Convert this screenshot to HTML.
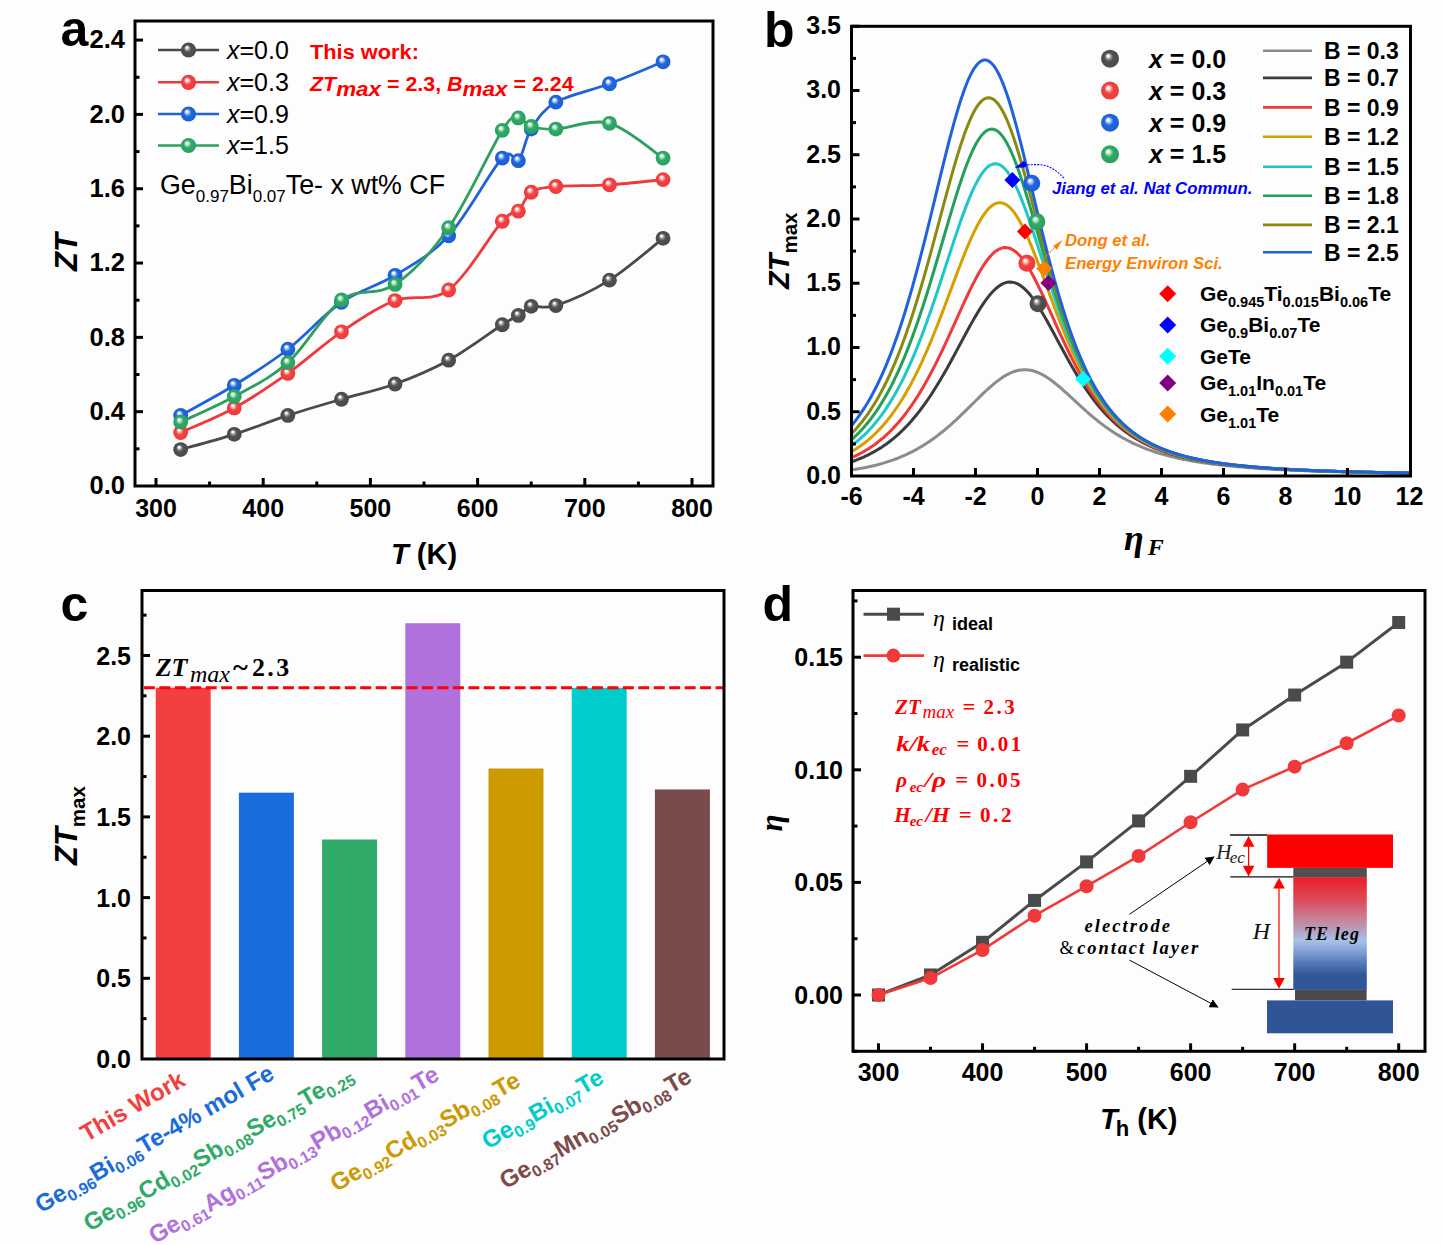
<!DOCTYPE html><html><head><meta charset="utf-8"><style>html,body{margin:0;padding:0;background:#fff;}svg{display:block;}</style></head><body>
<svg width="1443" height="1245" viewBox="0 0 1443 1245">
<defs>
<radialGradient id="sg" cx="0.5" cy="0.5" r="0.5" fx="0.38" fy="0.32"><stop offset="0" stop-color="#ffffff"/><stop offset="0.1" stop-color="#ffffff" stop-opacity="0.9"/><stop offset="0.3" stop-color="#909090"/><stop offset="0.5" stop-color="#505050"/><stop offset="1" stop-color="#4a4a4a"/></radialGradient>
<radialGradient id="sr" cx="0.5" cy="0.5" r="0.5" fx="0.38" fy="0.32"><stop offset="0" stop-color="#ffffff"/><stop offset="0.1" stop-color="#ffffff" stop-opacity="0.9"/><stop offset="0.3" stop-color="#f8a0a0"/><stop offset="0.5" stop-color="#f24242"/><stop offset="1" stop-color="#ee3a3c"/></radialGradient>
<radialGradient id="sb" cx="0.5" cy="0.5" r="0.5" fx="0.38" fy="0.32"><stop offset="0" stop-color="#ffffff"/><stop offset="0.1" stop-color="#ffffff" stop-opacity="0.9"/><stop offset="0.3" stop-color="#90b4f0"/><stop offset="0.5" stop-color="#2066dc"/><stop offset="1" stop-color="#1c5ed4"/></radialGradient>
<radialGradient id="sgr" cx="0.5" cy="0.5" r="0.5" fx="0.38" fy="0.32"><stop offset="0" stop-color="#ffffff"/><stop offset="0.1" stop-color="#ffffff" stop-opacity="0.9"/><stop offset="0.3" stop-color="#98d8b4"/><stop offset="0.5" stop-color="#2eaa66"/><stop offset="1" stop-color="#2aa060"/></radialGradient>
<linearGradient id="leg" x1="0" y1="0" x2="0" y2="1"><stop offset="0" stop-color="#e81e28"/><stop offset="0.2" stop-color="#dc4a58"/><stop offset="0.4" stop-color="#c48aa2"/><stop offset="0.5" stop-color="#b0aacc"/><stop offset="0.56" stop-color="#a8c2e8"/><stop offset="0.65" stop-color="#86a4d6"/><stop offset="0.75" stop-color="#5a7cbc"/><stop offset="0.87" stop-color="#30579a"/><stop offset="1" stop-color="#2f5597"/></linearGradient>
<marker id="ahk" viewBox="0 0 10 10" refX="9" refY="5" markerWidth="9" markerHeight="9" orient="auto-start-reverse" markerUnits="userSpaceOnUse"><path d="M0,0 L10,5 L0,10 z" fill="#000"/></marker>
</defs>
<rect x="0" y="0" width="1443" height="1245" fill="#fdfdfd"/>
<rect x="135" y="21" width="578" height="465" fill="none" stroke="#000" stroke-width="3.0"/>
<line x1="135" y1="411.68" x2="143" y2="411.68" stroke="#000" stroke-width="3.0"/>
<line x1="135" y1="337.36" x2="143" y2="337.36" stroke="#000" stroke-width="3.0"/>
<line x1="135" y1="263.04" x2="143" y2="263.04" stroke="#000" stroke-width="3.0"/>
<line x1="135" y1="188.72" x2="143" y2="188.72" stroke="#000" stroke-width="3.0"/>
<line x1="135" y1="114.4" x2="143" y2="114.4" stroke="#000" stroke-width="3.0"/>
<line x1="135" y1="40.08" x2="143" y2="40.08" stroke="#000" stroke-width="3.0"/>
<line x1="135" y1="448.84" x2="139.5" y2="448.84" stroke="#000" stroke-width="3.0"/>
<line x1="135" y1="374.52" x2="139.5" y2="374.52" stroke="#000" stroke-width="3.0"/>
<line x1="135" y1="300.2" x2="139.5" y2="300.2" stroke="#000" stroke-width="3.0"/>
<line x1="135" y1="225.88" x2="139.5" y2="225.88" stroke="#000" stroke-width="3.0"/>
<line x1="135" y1="151.56" x2="139.5" y2="151.56" stroke="#000" stroke-width="3.0"/>
<line x1="135" y1="77.24" x2="139.5" y2="77.24" stroke="#000" stroke-width="3.0"/>
<line x1="156" y1="486" x2="156" y2="478" stroke="#000" stroke-width="3.0"/>
<line x1="263.2" y1="486" x2="263.2" y2="478" stroke="#000" stroke-width="3.0"/>
<line x1="370.4" y1="486" x2="370.4" y2="478" stroke="#000" stroke-width="3.0"/>
<line x1="477.6" y1="486" x2="477.6" y2="478" stroke="#000" stroke-width="3.0"/>
<line x1="584.8" y1="486" x2="584.8" y2="478" stroke="#000" stroke-width="3.0"/>
<line x1="692" y1="486" x2="692" y2="478" stroke="#000" stroke-width="3.0"/>
<line x1="209.6" y1="486" x2="209.6" y2="481.5" stroke="#000" stroke-width="3.0"/>
<line x1="316.8" y1="486" x2="316.8" y2="481.5" stroke="#000" stroke-width="3.0"/>
<line x1="424" y1="486" x2="424" y2="481.5" stroke="#000" stroke-width="3.0"/>
<line x1="531.2" y1="486" x2="531.2" y2="481.5" stroke="#000" stroke-width="3.0"/>
<line x1="638.4" y1="486" x2="638.4" y2="481.5" stroke="#000" stroke-width="3.0"/>
<text x="125" y="494.2" font-size="25.5" text-anchor="end" font-weight="bold" font-style="normal" fill="#000" font-family='"Liberation Sans", sans-serif' >0.0</text>
<text x="125" y="419.88" font-size="25.5" text-anchor="end" font-weight="bold" font-style="normal" fill="#000" font-family='"Liberation Sans", sans-serif' >0.4</text>
<text x="125" y="345.56" font-size="25.5" text-anchor="end" font-weight="bold" font-style="normal" fill="#000" font-family='"Liberation Sans", sans-serif' >0.8</text>
<text x="125" y="271.24" font-size="25.5" text-anchor="end" font-weight="bold" font-style="normal" fill="#000" font-family='"Liberation Sans", sans-serif' >1.2</text>
<text x="125" y="196.92" font-size="25.5" text-anchor="end" font-weight="bold" font-style="normal" fill="#000" font-family='"Liberation Sans", sans-serif' >1.6</text>
<text x="125" y="122.6" font-size="25.5" text-anchor="end" font-weight="bold" font-style="normal" fill="#000" font-family='"Liberation Sans", sans-serif' >2.0</text>
<text x="125" y="48.28" font-size="25.5" text-anchor="end" font-weight="bold" font-style="normal" fill="#000" font-family='"Liberation Sans", sans-serif' >2.4</text>
<text x="156" y="517" font-size="25" text-anchor="middle" font-weight="bold" font-style="normal" fill="#000" font-family='"Liberation Sans", sans-serif' >300</text>
<text x="263.2" y="517" font-size="25" text-anchor="middle" font-weight="bold" font-style="normal" fill="#000" font-family='"Liberation Sans", sans-serif' >400</text>
<text x="370.4" y="517" font-size="25" text-anchor="middle" font-weight="bold" font-style="normal" fill="#000" font-family='"Liberation Sans", sans-serif' >500</text>
<text x="477.6" y="517" font-size="25" text-anchor="middle" font-weight="bold" font-style="normal" fill="#000" font-family='"Liberation Sans", sans-serif' >600</text>
<text x="584.8" y="517" font-size="25" text-anchor="middle" font-weight="bold" font-style="normal" fill="#000" font-family='"Liberation Sans", sans-serif' >700</text>
<text x="692" y="517" font-size="25" text-anchor="middle" font-weight="bold" font-style="normal" fill="#000" font-family='"Liberation Sans", sans-serif' >800</text>
<text x="60.5" y="46" font-size="50" text-anchor="start" font-weight="bold" font-style="normal" fill="#000" font-family='"Liberation Sans", sans-serif' >a</text>
<text transform="translate(77,271) rotate(-90)" font-size="31" font-weight="bold" font-style="italic" font-family='"Liberation Sans", sans-serif'>ZT</text>
<text x="391" y="564" font-size="29" font-weight="bold" font-family='"Liberation Sans", sans-serif'><tspan font-style="italic">T</tspan> (K)</text>
<path d="M180.66,449.58 C189.59,447.04 216.39,440.05 234.26,434.35 C252.12,428.65 269.99,421.25 287.86,415.4 C305.72,409.54 323.59,404.46 341.46,399.23 C359.32,394 377.19,390.5 395.06,384 C412.92,377.49 430.79,370.09 448.66,360.21 C466.52,350.34 490.64,332.19 502.26,324.73 C513.87,317.26 513.51,318.5 518.34,315.44 C523.16,312.37 524.95,307.97 531.2,306.33 C537.45,304.69 542.81,309.95 555.86,305.59 C568.9,301.22 591.59,291.34 609.46,280.13 C627.32,268.92 654.12,245.3 663.06,238.33" fill="none" stroke="#4a4a4a" stroke-width="2.8"/>
<circle cx="180.66" cy="449.58" r="7.4" fill="url(#sg)"/>
<circle cx="234.26" cy="434.35" r="7.4" fill="url(#sg)"/>
<circle cx="287.86" cy="415.4" r="7.4" fill="url(#sg)"/>
<circle cx="341.46" cy="399.23" r="7.4" fill="url(#sg)"/>
<circle cx="395.06" cy="384" r="7.4" fill="url(#sg)"/>
<circle cx="448.66" cy="360.21" r="7.4" fill="url(#sg)"/>
<circle cx="502.26" cy="324.73" r="7.4" fill="url(#sg)"/>
<circle cx="518.34" cy="315.44" r="7.4" fill="url(#sg)"/>
<circle cx="531.2" cy="306.33" r="7.4" fill="url(#sg)"/>
<circle cx="555.86" cy="305.59" r="7.4" fill="url(#sg)"/>
<circle cx="609.46" cy="280.13" r="7.4" fill="url(#sg)"/>
<circle cx="663.06" cy="238.33" r="7.4" fill="url(#sg)"/>
<path d="M180.66,432.49 C189.59,428.4 216.39,417.81 234.26,407.96 C252.12,398.12 269.99,386.1 287.86,373.41 C305.72,360.71 323.59,343.92 341.46,331.79 C359.32,319.65 377.19,307.54 395.06,300.57 C412.92,293.6 430.79,303.2 448.66,289.98 C466.52,276.76 490.64,234.36 502.26,221.23 C513.87,208.11 513.51,216.03 518.34,211.2 C523.16,206.37 524.95,196.37 531.2,192.25 C537.45,188.13 542.81,187.73 555.86,186.49 C568.9,185.25 591.59,185.96 609.46,184.82 C627.32,183.67 654.12,180.48 663.06,179.62" fill="none" stroke="#f0393b" stroke-width="2.8"/>
<circle cx="180.66" cy="432.49" r="7.4" fill="url(#sr)"/>
<circle cx="234.26" cy="407.96" r="7.4" fill="url(#sr)"/>
<circle cx="287.86" cy="373.41" r="7.4" fill="url(#sr)"/>
<circle cx="341.46" cy="331.79" r="7.4" fill="url(#sr)"/>
<circle cx="395.06" cy="300.57" r="7.4" fill="url(#sr)"/>
<circle cx="448.66" cy="289.98" r="7.4" fill="url(#sr)"/>
<circle cx="502.26" cy="221.23" r="7.4" fill="url(#sr)"/>
<circle cx="518.34" cy="211.2" r="7.4" fill="url(#sr)"/>
<circle cx="531.2" cy="192.25" r="7.4" fill="url(#sr)"/>
<circle cx="555.86" cy="186.49" r="7.4" fill="url(#sr)"/>
<circle cx="609.46" cy="184.82" r="7.4" fill="url(#sr)"/>
<circle cx="663.06" cy="179.62" r="7.4" fill="url(#sr)"/>
<path d="M180.66,415.4 C189.59,410.38 216.39,396.32 234.26,385.3 C252.12,374.27 269.99,363.09 287.86,349.25 C305.72,335.41 323.59,314.57 341.46,302.24 C359.32,289.92 377.19,286.39 395.06,275.3 C412.92,264.22 430.79,255.27 448.66,235.73 C466.52,216.19 490.64,170.57 502.26,158.06 C513.87,145.55 513.51,165.5 518.34,160.66 C523.16,155.83 524.95,138.83 531.2,129.08 C537.45,119.32 542.81,109.69 555.86,102.14 C568.9,94.58 591.59,90.46 609.46,83.74 C627.32,77.02 654.12,65.47 663.06,61.82" fill="none" stroke="#1f63dc" stroke-width="2.8"/>
<circle cx="180.66" cy="415.4" r="7.4" fill="url(#sb)"/>
<circle cx="234.26" cy="385.3" r="7.4" fill="url(#sb)"/>
<circle cx="287.86" cy="349.25" r="7.4" fill="url(#sb)"/>
<circle cx="341.46" cy="302.24" r="7.4" fill="url(#sb)"/>
<circle cx="395.06" cy="275.3" r="7.4" fill="url(#sb)"/>
<circle cx="448.66" cy="235.73" r="7.4" fill="url(#sb)"/>
<circle cx="502.26" cy="158.06" r="7.4" fill="url(#sb)"/>
<circle cx="518.34" cy="160.66" r="7.4" fill="url(#sb)"/>
<circle cx="531.2" cy="129.08" r="7.4" fill="url(#sb)"/>
<circle cx="555.86" cy="102.14" r="7.4" fill="url(#sb)"/>
<circle cx="609.46" cy="83.74" r="7.4" fill="url(#sb)"/>
<circle cx="663.06" cy="61.82" r="7.4" fill="url(#sb)"/>
<path d="M180.66,422.08 C189.59,417.81 216.39,406.35 234.26,396.44 C252.12,386.54 269.99,378.7 287.86,362.63 C305.72,346.56 323.59,313.05 341.46,300.01 C359.32,286.98 377.19,296.45 395.06,284.41 C412.92,272.36 430.79,253.41 448.66,227.74 C466.52,202.07 490.64,148.68 502.26,130.38 C513.87,112.08 513.51,118.58 518.34,117.93 C523.16,117.28 524.95,124.62 531.2,126.48 C537.45,128.33 542.81,129.6 555.86,129.08 C568.9,128.55 591.59,118.49 609.46,123.32 C627.32,128.15 654.12,152.27 663.06,158.06" fill="none" stroke="#2e9f5f" stroke-width="2.8"/>
<circle cx="180.66" cy="422.08" r="7.4" fill="url(#sgr)"/>
<circle cx="234.26" cy="396.44" r="7.4" fill="url(#sgr)"/>
<circle cx="287.86" cy="362.63" r="7.4" fill="url(#sgr)"/>
<circle cx="341.46" cy="300.01" r="7.4" fill="url(#sgr)"/>
<circle cx="395.06" cy="284.41" r="7.4" fill="url(#sgr)"/>
<circle cx="448.66" cy="227.74" r="7.4" fill="url(#sgr)"/>
<circle cx="502.26" cy="130.38" r="7.4" fill="url(#sgr)"/>
<circle cx="518.34" cy="117.93" r="7.4" fill="url(#sgr)"/>
<circle cx="531.2" cy="126.48" r="7.4" fill="url(#sgr)"/>
<circle cx="555.86" cy="129.08" r="7.4" fill="url(#sgr)"/>
<circle cx="609.46" cy="123.32" r="7.4" fill="url(#sgr)"/>
<circle cx="663.06" cy="158.06" r="7.4" fill="url(#sgr)"/>
<line x1="158" y1="50" x2="219" y2="50" stroke="#4a4a4a" stroke-width="2.6"/>
<circle cx="188.5" cy="50" r="7.6" fill="url(#sg)"/>
<text x="227" y="58.5" font-size="25" font-family='"Liberation Sans", sans-serif'><tspan font-style="italic">x</tspan>=0.0</text>
<line x1="158" y1="82.3" x2="219" y2="82.3" stroke="#f0393b" stroke-width="2.6"/>
<circle cx="188.5" cy="82.3" r="7.6" fill="url(#sr)"/>
<text x="227" y="90.8" font-size="25" font-family='"Liberation Sans", sans-serif'><tspan font-style="italic">x</tspan>=0.3</text>
<line x1="158" y1="114" x2="219" y2="114" stroke="#1f63dc" stroke-width="2.6"/>
<circle cx="188.5" cy="114" r="7.6" fill="url(#sb)"/>
<text x="227" y="122.5" font-size="25" font-family='"Liberation Sans", sans-serif'><tspan font-style="italic">x</tspan>=0.9</text>
<line x1="158" y1="145.5" x2="219" y2="145.5" stroke="#2e9f5f" stroke-width="2.6"/>
<circle cx="188.5" cy="145.5" r="7.6" fill="url(#sgr)"/>
<text x="227" y="154.0" font-size="25" font-family='"Liberation Sans", sans-serif'><tspan font-style="italic">x</tspan>=1.5</text>
<text x="160" y="194" font-size="26.8" font-family='"Liberation Sans", sans-serif'>Ge<tspan font-size="17" dy="7.5">0.97</tspan><tspan dy="-7.5">Bi</tspan><tspan font-size="17" dy="7.5">0.07</tspan><tspan dy="-7.5">Te- x wt% CF</tspan></text>
<text transform="translate(310,59) scale(1.09,1)" font-size="20" text-anchor="start" font-weight="bold" font-style="normal" fill="#ff0000" font-family='"Liberation Sans", sans-serif' >This work:</text>
<text transform="translate(310,91) scale(1.07,1)" font-size="20" text-anchor="start" font-weight="bold" font-style="normal" fill="#ff0000" font-family='"Liberation Sans", sans-serif' ><tspan font-style="italic">ZT</tspan><tspan font-style="italic" font-size="21" dy="5">max</tspan><tspan dy="-5"> = 2.3, </tspan><tspan font-style="italic">B</tspan><tspan font-style="italic" font-size="21" dy="5">max</tspan><tspan dy="-5"> = 2.24</tspan></text>
<clipPath id="clipb"><rect x="851.5" y="26.3" width="559.0" height="449.7"/></clipPath>
<g clip-path="url(#clipb)">
<polyline points="851.5,469.9 853.83,469.55 856.15,469.18 858.48,468.79 860.8,468.38 863.12,467.94 865.45,467.49 867.77,467.01 870.1,466.51 872.42,465.98 874.75,465.42 877.08,464.84 879.4,464.22 881.73,463.58 884.05,462.9 886.38,462.19 888.7,461.44 891.02,460.66 893.35,459.85 895.67,458.99 898,458.09 900.33,457.16 902.65,456.18 904.98,455.15 907.3,454.09 909.62,452.97 911.95,451.81 914.27,450.6 916.6,449.34 918.92,448.03 921.25,446.66 923.58,445.25 925.9,443.78 928.23,442.25 930.55,440.67 932.88,439.04 935.2,437.35 937.52,435.61 939.85,433.81 942.17,431.96 944.5,430.06 946.83,428.11 949.15,426.11 951.48,424.06 953.8,421.96 956.12,419.83 958.45,417.65 960.77,415.44 963.1,413.2 965.42,410.94 967.75,408.65 970.08,406.35 972.4,404.05 974.73,401.74 977.05,399.45 979.38,397.16 981.7,394.91 984.02,392.68 986.35,390.5 988.67,388.38 991,386.32 993.33,384.33 995.65,382.43 997.98,380.62 1000.3,378.92 1002.62,377.34 1004.95,375.88 1007.27,374.56 1009.6,373.38 1011.92,372.35 1014.25,371.49 1016.58,370.79 1018.9,370.26 1021.23,369.91 1023.55,369.73 1025.88,369.73 1028.2,369.9 1030.53,370.26 1032.85,370.78 1035.17,371.48 1037.5,372.34 1039.83,373.35 1042.15,374.51 1044.47,375.82 1046.8,377.25 1049.12,378.8 1051.45,380.46 1053.78,382.22 1056.1,384.07 1058.42,385.99 1060.75,387.98 1063.08,390.02 1065.4,392.1 1067.72,394.22 1070.05,396.35 1072.38,398.5 1074.7,400.66 1077.03,402.81 1079.35,404.95 1081.67,407.08 1084,409.18 1086.33,411.25 1088.65,413.29 1090.97,415.29 1093.3,417.25 1095.62,419.16 1097.95,421.03 1100.28,422.86 1102.6,424.63 1104.92,426.35 1107.25,428.02 1109.58,429.64 1111.9,431.21 1114.22,432.72 1116.55,434.19 1118.88,435.6 1121.2,436.97 1123.53,438.29 1125.85,439.55 1128.17,440.78 1130.5,441.95 1132.83,443.09 1135.15,444.17 1137.47,445.22 1139.8,446.23 1142.12,447.2 1144.45,448.13 1146.78,449.03 1149.1,449.89 1151.42,450.71 1153.75,451.51 1156.08,452.27 1158.4,453.01 1160.72,453.71 1163.05,454.39 1165.38,455.04 1167.7,455.67 1170.03,456.27 1172.35,456.85 1174.67,457.4 1177,457.94 1179.33,458.45 1181.65,458.95 1183.97,459.43 1186.3,459.88 1188.62,460.33 1190.95,460.75 1193.28,461.16 1195.6,461.56 1197.92,461.94 1200.25,462.3 1202.58,462.66 1204.9,463 1207.22,463.33 1209.55,463.64 1211.88,463.95 1214.2,464.25 1216.53,464.53 1218.85,464.81 1221.17,465.07 1223.5,465.33 1225.83,465.58 1228.15,465.82 1230.47,466.05 1232.8,466.28 1235.12,466.49 1237.45,466.71 1239.78,466.91 1242.1,467.11 1244.42,467.3 1246.75,467.48 1249.08,467.66 1251.4,467.84 1253.72,468.01 1256.05,468.17 1258.38,468.33 1260.7,468.48 1263.03,468.63 1265.35,468.78 1267.67,468.92 1270,469.06 1272.33,469.19 1274.65,469.32 1276.97,469.45 1279.3,469.57 1281.62,469.69 1283.95,469.8 1286.28,469.91 1288.6,470.02 1290.92,470.13 1293.25,470.23 1295.58,470.34 1297.9,470.43 1300.22,470.53 1302.55,470.62 1304.88,470.72 1307.2,470.8 1309.53,470.89 1311.85,470.98 1314.17,471.06 1316.5,471.14 1318.83,471.22 1321.15,471.29 1323.47,471.37 1325.8,471.44 1328.12,471.51 1330.45,471.58 1332.78,471.65 1335.1,471.72 1337.42,471.78 1339.75,471.84 1342.08,471.91 1344.4,471.97 1346.72,472.03 1349.05,472.08 1351.38,472.14 1353.7,472.2 1356.03,472.25 1358.35,472.3 1360.67,472.36 1363,472.41 1365.32,472.46 1367.65,472.51 1369.97,472.55 1372.3,472.6 1374.62,472.65 1376.95,472.69 1379.28,472.73 1381.6,472.78 1383.93,472.82 1386.25,472.86 1388.57,472.9 1390.9,472.94 1393.22,472.98 1395.55,473.02 1397.88,473.06 1400.2,473.09 1402.53,473.13 1404.85,473.17 1407.18,473.2 1409.5,473.23" fill="none" stroke="#8c8c8c" stroke-width="3.0" stroke-linejoin="round"/>
<polyline points="851.5,461.79 853.83,460.98 856.15,460.12 858.48,459.21 860.8,458.26 863.12,457.26 865.45,456.2 867.77,455.09 870.1,453.93 872.42,452.7 874.75,451.42 877.08,450.07 879.4,448.65 881.73,447.16 884.05,445.6 886.38,443.97 888.7,442.26 891.02,440.47 893.35,438.59 895.67,436.63 898,434.58 900.33,432.45 902.65,430.22 904.98,427.89 907.3,425.47 909.62,422.94 911.95,420.32 914.27,417.59 916.6,414.76 918.92,411.82 921.25,408.78 923.58,405.63 925.9,402.38 928.23,399.02 930.55,395.55 932.88,391.99 935.2,388.32 937.52,384.56 939.85,380.7 942.17,376.76 944.5,372.74 946.83,368.64 949.15,364.47 951.48,360.24 953.8,355.97 956.12,351.66 958.45,347.32 960.77,342.98 963.1,338.63 965.42,334.31 967.75,330.02 970.08,325.79 972.4,321.63 974.73,317.57 977.05,313.62 979.38,309.81 981.7,306.15 984.02,302.68 986.35,299.41 988.67,296.36 991,293.56 993.33,291.02 995.65,288.76 997.98,286.81 1000.3,285.17 1002.62,283.87 1004.95,282.91 1007.27,282.29 1009.6,282.04 1011.92,282.14 1014.25,282.61 1016.58,283.43 1018.9,284.6 1021.23,286.12 1023.55,287.96 1025.88,290.13 1028.2,292.59 1030.53,295.33 1032.85,298.34 1035.17,301.58 1037.5,305.04 1039.83,308.69 1042.15,312.51 1044.47,316.48 1046.8,320.56 1049.12,324.73 1051.45,328.98 1053.78,333.28 1056.1,337.61 1058.42,341.94 1060.75,346.27 1063.08,350.57 1065.4,354.83 1067.72,359.04 1070.05,363.18 1072.38,367.24 1074.7,371.22 1077.03,375.11 1079.35,378.89 1081.67,382.57 1084,386.15 1086.33,389.61 1088.65,392.96 1090.97,396.19 1093.3,399.31 1095.62,402.32 1097.95,405.21 1100.28,407.99 1102.6,410.66 1104.92,413.23 1107.25,415.69 1109.58,418.04 1111.9,420.3 1114.22,422.46 1116.55,424.53 1118.88,426.51 1121.2,428.41 1123.53,430.22 1125.85,431.95 1128.17,433.6 1130.5,435.18 1132.83,436.69 1135.15,438.14 1137.47,439.52 1139.8,440.83 1142.12,442.09 1144.45,443.3 1146.78,444.45 1149.1,445.55 1151.42,446.6 1153.75,447.6 1156.08,448.56 1158.4,449.48 1160.72,450.36 1163.05,451.2 1165.38,452.01 1167.7,452.78 1170.03,453.52 1172.35,454.23 1174.67,454.9 1177,455.55 1179.33,456.18 1181.65,456.77 1183.97,457.35 1186.3,457.9 1188.62,458.42 1190.95,458.93 1193.28,459.42 1195.6,459.88 1197.92,460.33 1200.25,460.77 1202.58,461.18 1204.9,461.58 1207.22,461.97 1209.55,462.34 1211.88,462.69 1214.2,463.04 1216.53,463.37 1218.85,463.69 1221.17,463.99 1223.5,464.29 1225.83,464.58 1228.15,464.85 1230.47,465.12 1232.8,465.38 1235.12,465.63 1237.45,465.87 1239.78,466.1 1242.1,466.32 1244.42,466.54 1246.75,466.75 1249.08,466.95 1251.4,467.15 1253.72,467.34 1256.05,467.53 1258.38,467.71 1260.7,467.88 1263.03,468.05 1265.35,468.21 1267.67,468.37 1270,468.52 1272.33,468.67 1274.65,468.81 1276.97,468.96 1279.3,469.09 1281.62,469.22 1283.95,469.35 1286.28,469.48 1288.6,469.6 1290.92,469.72 1293.25,469.83 1295.58,469.94 1297.9,470.05 1300.22,470.16 1302.55,470.26 1304.88,470.36 1307.2,470.46 1309.53,470.56 1311.85,470.65 1314.17,470.74 1316.5,470.83 1318.83,470.91 1321.15,471 1323.47,471.08 1325.8,471.16 1328.12,471.24 1330.45,471.31 1332.78,471.39 1335.1,471.46 1337.42,471.53 1339.75,471.6 1342.08,471.67 1344.4,471.73 1346.72,471.8 1349.05,471.86 1351.38,471.92 1353.7,471.98 1356.03,472.04 1358.35,472.1 1360.67,472.16 1363,472.21 1365.32,472.26 1367.65,472.32 1369.97,472.37 1372.3,472.42 1374.62,472.47 1376.95,472.52 1379.28,472.57 1381.6,472.61 1383.93,472.66 1386.25,472.7 1388.57,472.75 1390.9,472.79 1393.22,472.83 1395.55,472.87 1397.88,472.91 1400.2,472.95 1402.53,472.99 1404.85,473.03 1407.18,473.07 1409.5,473.1" fill="none" stroke="#3c3c3c" stroke-width="3.0" stroke-linejoin="round"/>
<polyline points="851.5,457.75 853.83,456.71 856.15,455.6 858.48,454.44 860.8,453.22 863.12,451.94 865.45,450.59 867.77,449.17 870.1,447.67 872.42,446.11 874.75,444.46 877.08,442.73 879.4,440.92 881.73,439.02 884.05,437.03 886.38,434.94 888.7,432.76 891.02,430.47 893.35,428.08 895.67,425.59 898,422.98 900.33,420.26 902.65,417.43 904.98,414.48 907.3,411.41 909.62,408.21 911.95,404.89 914.27,401.45 916.6,397.87 918.92,394.18 921.25,390.35 923.58,386.4 925.9,382.32 928.23,378.12 930.55,373.8 932.88,369.36 935.2,364.81 937.52,360.15 939.85,355.4 942.17,350.55 944.5,345.62 946.83,340.61 949.15,335.55 951.48,330.44 953.8,325.3 956.12,320.14 958.45,314.98 960.77,309.84 963.1,304.74 965.42,299.71 967.75,294.76 970.08,289.92 972.4,285.21 974.73,280.67 977.05,276.31 979.38,272.16 981.7,268.26 984.02,264.62 986.35,261.28 988.67,258.25 991,255.55 993.33,253.22 995.65,251.27 997.98,249.72 1000.3,248.57 1002.62,247.84 1004.95,247.55 1007.27,247.68 1009.6,248.25 1011.92,249.25 1014.25,250.67 1016.58,252.5 1018.9,254.72 1021.23,257.33 1023.55,260.3 1025.88,263.61 1028.2,267.23 1030.53,271.14 1032.85,275.31 1035.17,279.7 1037.5,284.3 1039.83,289.07 1042.15,293.98 1044.47,299 1046.8,304.11 1049.12,309.28 1051.45,314.47 1053.78,319.68 1056.1,324.88 1058.42,330.04 1060.75,335.14 1063.08,340.19 1065.4,345.14 1067.72,350.01 1070.05,354.76 1072.38,359.4 1074.7,363.92 1077.03,368.31 1079.35,372.57 1081.67,376.69 1084,380.67 1086.33,384.51 1088.65,388.21 1090.97,391.77 1093.3,395.2 1095.62,398.49 1097.95,401.64 1100.28,404.66 1102.6,407.56 1104.92,410.33 1107.25,412.99 1109.58,415.52 1111.9,417.95 1114.22,420.26 1116.55,422.47 1118.88,424.59 1121.2,426.6 1123.53,428.52 1125.85,430.36 1128.17,432.11 1130.5,433.78 1132.83,435.38 1135.15,436.9 1137.47,438.35 1139.8,439.74 1142.12,441.06 1144.45,442.32 1146.78,443.53 1149.1,444.68 1151.42,445.78 1153.75,446.83 1156.08,447.83 1158.4,448.79 1160.72,449.7 1163.05,450.58 1165.38,451.42 1167.7,452.22 1170.03,452.98 1172.35,453.72 1174.67,454.42 1177,455.09 1179.33,455.74 1181.65,456.36 1183.97,456.95 1186.3,457.52 1188.62,458.06 1190.95,458.58 1193.28,459.09 1195.6,459.57 1197.92,460.03 1200.25,460.48 1202.58,460.9 1204.9,461.31 1207.22,461.71 1209.55,462.09 1211.88,462.46 1214.2,462.81 1216.53,463.15 1218.85,463.48 1221.17,463.79 1223.5,464.1 1225.83,464.39 1228.15,464.67 1230.47,464.95 1232.8,465.21 1235.12,465.47 1237.45,465.71 1239.78,465.95 1242.1,466.18 1244.42,466.4 1246.75,466.62 1249.08,466.82 1251.4,467.03 1253.72,467.22 1256.05,467.41 1258.38,467.59 1260.7,467.77 1263.03,467.94 1265.35,468.11 1267.67,468.27 1270,468.42 1272.33,468.58 1274.65,468.72 1276.97,468.87 1279.3,469.01 1281.62,469.14 1283.95,469.27 1286.28,469.4 1288.6,469.52 1290.92,469.64 1293.25,469.76 1295.58,469.87 1297.9,469.98 1300.22,470.09 1302.55,470.2 1304.88,470.3 1307.2,470.4 1309.53,470.5 1311.85,470.59 1314.17,470.68 1316.5,470.77 1318.83,470.86 1321.15,470.94 1323.47,471.03 1325.8,471.11 1328.12,471.19 1330.45,471.27 1332.78,471.34 1335.1,471.41 1337.42,471.49 1339.75,471.56 1342.08,471.62 1344.4,471.69 1346.72,471.76 1349.05,471.82 1351.38,471.88 1353.7,471.94 1356.03,472 1358.35,472.06 1360.67,472.12 1363,472.18 1365.32,472.23 1367.65,472.28 1369.97,472.34 1372.3,472.39 1374.62,472.44 1376.95,472.49 1379.28,472.54 1381.6,472.58 1383.93,472.63 1386.25,472.67 1388.57,472.72 1390.9,472.76 1393.22,472.8 1395.55,472.85 1397.88,472.89 1400.2,472.93 1402.53,472.97 1404.85,473 1407.18,473.04 1409.5,473.08" fill="none" stroke="#f03a3a" stroke-width="3.0" stroke-linejoin="round"/>
<polyline points="851.5,451.7 853.83,450.31 856.15,448.85 858.48,447.31 860.8,445.69 863.12,443.99 865.45,442.19 867.77,440.31 870.1,438.33 872.42,436.26 874.75,434.08 877.08,431.79 879.4,429.39 881.73,426.88 884.05,424.25 886.38,421.5 888.7,418.62 891.02,415.61 893.35,412.47 895.67,409.19 898,405.77 900.33,402.2 902.65,398.49 904.98,394.63 907.3,390.62 909.62,386.45 911.95,382.13 914.27,377.66 916.6,373.03 918.92,368.25 921.25,363.31 923.58,358.23 925.9,353 928.23,347.63 930.55,342.12 932.88,336.48 935.2,330.72 937.52,324.86 939.85,318.89 942.17,312.84 944.5,306.72 946.83,300.55 949.15,294.34 951.48,288.11 953.8,281.89 956.12,275.7 958.45,269.57 960.77,263.52 963.1,257.59 965.42,251.79 967.75,246.17 970.08,240.76 972.4,235.58 974.73,230.66 977.05,226.06 979.38,221.78 981.7,217.87 984.02,214.35 986.35,211.25 988.67,208.6 991,206.42 993.33,204.72 995.65,203.53 997.98,202.85 1000.3,202.7 1002.62,203.07 1004.95,203.96 1007.27,205.37 1009.6,207.3 1011.92,209.71 1014.25,212.6 1016.58,215.95 1018.9,219.72 1021.23,223.9 1023.55,228.44 1025.88,233.32 1028.2,238.5 1030.53,243.95 1032.85,249.63 1035.17,255.5 1037.5,261.54 1039.83,267.69 1042.15,273.94 1044.47,280.24 1046.8,286.57 1049.12,292.91 1051.45,299.21 1053.78,305.47 1056.1,311.65 1058.42,317.74 1060.75,323.72 1063.08,329.58 1065.4,335.3 1067.72,340.87 1070.05,346.3 1072.38,351.55 1074.7,356.65 1077.03,361.57 1079.35,366.32 1081.67,370.9 1084,375.3 1086.33,379.53 1088.65,383.59 1090.97,387.49 1093.3,391.22 1095.62,394.79 1097.95,398.21 1100.28,401.48 1102.6,404.6 1104.92,407.57 1107.25,410.42 1109.58,413.13 1111.9,415.72 1114.22,418.18 1116.55,420.53 1118.88,422.77 1121.2,424.9 1123.53,426.94 1125.85,428.87 1128.17,430.72 1130.5,432.48 1132.83,434.15 1135.15,435.75 1137.47,437.27 1139.8,438.72 1142.12,440.1 1144.45,441.42 1146.78,442.68 1149.1,443.88 1151.42,445.02 1153.75,446.11 1156.08,447.15 1158.4,448.15 1160.72,449.1 1163.05,450.01 1165.38,450.87 1167.7,451.7 1170.03,452.5 1172.35,453.25 1174.67,453.98 1177,454.67 1179.33,455.34 1181.65,455.98 1183.97,456.59 1186.3,457.17 1188.62,457.73 1190.95,458.27 1193.28,458.79 1195.6,459.28 1197.92,459.76 1200.25,460.21 1202.58,460.65 1204.9,461.07 1207.22,461.48 1209.55,461.87 1211.88,462.24 1214.2,462.61 1216.53,462.95 1218.85,463.29 1221.17,463.61 1223.5,463.92 1225.83,464.22 1228.15,464.51 1230.47,464.79 1232.8,465.06 1235.12,465.32 1237.45,465.57 1239.78,465.81 1242.1,466.05 1244.42,466.28 1246.75,466.49 1249.08,466.71 1251.4,466.91 1253.72,467.11 1256.05,467.3 1258.38,467.49 1260.7,467.67 1263.03,467.84 1265.35,468.01 1267.67,468.18 1270,468.34 1272.33,468.49 1274.65,468.64 1276.97,468.79 1279.3,468.93 1281.62,469.07 1283.95,469.2 1286.28,469.33 1288.6,469.45 1290.92,469.58 1293.25,469.69 1295.58,469.81 1297.9,469.92 1300.22,470.03 1302.55,470.14 1304.88,470.24 1307.2,470.34 1309.53,470.44 1311.85,470.54 1314.17,470.63 1316.5,470.72 1318.83,470.81 1321.15,470.9 1323.47,470.98 1325.8,471.06 1328.12,471.14 1330.45,471.22 1332.78,471.3 1335.1,471.37 1337.42,471.45 1339.75,471.52 1342.08,471.59 1344.4,471.65 1346.72,471.72 1349.05,471.79 1351.38,471.85 1353.7,471.91 1356.03,471.97 1358.35,472.03 1360.67,472.09 1363,472.14 1365.32,472.2 1367.65,472.25 1369.97,472.31 1372.3,472.36 1374.62,472.41 1376.95,472.46 1379.28,472.51 1381.6,472.56 1383.93,472.6 1386.25,472.65 1388.57,472.69 1390.9,472.74 1393.22,472.78 1395.55,472.82 1397.88,472.86 1400.2,472.9 1402.53,472.94 1404.85,472.98 1407.18,473.02 1409.5,473.06" fill="none" stroke="#d4a000" stroke-width="3.0" stroke-linejoin="round"/>
<polyline points="851.5,445.68 853.83,443.94 856.15,442.12 858.48,440.2 860.8,438.19 863.12,436.07 865.45,433.84 867.77,431.5 870.1,429.04 872.42,426.46 874.75,423.76 877.08,420.92 879.4,417.95 881.73,414.84 884.05,411.58 886.38,408.18 888.7,404.62 891.02,400.9 893.35,397.03 895.67,392.98 898,388.77 900.33,384.39 902.65,379.83 904.98,375.1 907.3,370.19 909.62,365.1 911.95,359.83 914.27,354.38 916.6,348.75 918.92,342.95 921.25,336.98 923.58,330.85 925.9,324.56 928.23,318.11 930.55,311.53 932.88,304.81 935.2,297.98 937.52,291.05 939.85,284.03 942.17,276.94 944.5,269.81 946.83,262.66 949.15,255.52 951.48,248.4 953.8,241.34 956.12,234.38 958.45,227.54 960.77,220.86 963.1,214.37 965.42,208.11 967.75,202.12 970.08,196.44 972.4,191.1 974.73,186.15 977.05,181.6 979.38,177.51 981.7,173.9 984.02,170.8 986.35,168.24 988.67,166.23 991,164.8 993.33,163.97 995.65,163.73 997.98,164.1 1000.3,165.07 1002.62,166.64 1004.95,168.79 1007.27,171.52 1009.6,174.8 1011.92,178.6 1014.25,182.9 1016.58,187.66 1018.9,192.85 1021.23,198.43 1023.55,204.37 1025.88,210.61 1028.2,217.13 1030.53,223.87 1032.85,230.81 1035.17,237.89 1037.5,245.08 1039.83,252.34 1042.15,259.64 1044.47,266.95 1046.8,274.22 1049.12,281.44 1051.45,288.58 1053.78,295.62 1056.1,302.54 1058.42,309.31 1060.75,315.93 1063.08,322.38 1065.4,328.65 1067.72,334.73 1070.05,340.62 1072.38,346.32 1074.7,351.81 1077.03,357.1 1079.35,362.19 1081.67,367.08 1084,371.78 1086.33,376.27 1088.65,380.58 1090.97,384.7 1093.3,388.64 1095.62,392.4 1097.95,396 1100.28,399.42 1102.6,402.69 1104.92,405.81 1107.25,408.77 1109.58,411.6 1111.9,414.29 1114.22,416.86 1116.55,419.3 1118.88,421.62 1121.2,423.83 1123.53,425.93 1125.85,427.94 1128.17,429.84 1130.5,431.66 1132.83,433.38 1135.15,435.03 1137.47,436.59 1139.8,438.08 1142.12,439.5 1144.45,440.86 1146.78,442.15 1149.1,443.38 1151.42,444.55 1153.75,445.67 1156.08,446.73 1158.4,447.75 1160.72,448.72 1163.05,449.65 1165.38,450.54 1167.7,451.38 1170.03,452.19 1172.35,452.97 1174.67,453.71 1177,454.41 1179.33,455.09 1181.65,455.74 1183.97,456.36 1186.3,456.96 1188.62,457.53 1190.95,458.07 1193.28,458.6 1195.6,459.1 1197.92,459.59 1200.25,460.05 1202.58,460.5 1204.9,460.92 1207.22,461.34 1209.55,461.73 1211.88,462.11 1214.2,462.48 1216.53,462.83 1218.85,463.17 1221.17,463.5 1223.5,463.82 1225.83,464.12 1228.15,464.41 1230.47,464.7 1232.8,464.97 1235.12,465.23 1237.45,465.49 1239.78,465.73 1242.1,465.97 1244.42,466.2 1246.75,466.42 1249.08,466.64 1251.4,466.84 1253.72,467.04 1256.05,467.24 1258.38,467.43 1260.7,467.61 1263.03,467.79 1265.35,467.96 1267.67,468.12 1270,468.28 1272.33,468.44 1274.65,468.59 1276.97,468.74 1279.3,468.88 1281.62,469.02 1283.95,469.15 1286.28,469.28 1288.6,469.41 1290.92,469.54 1293.25,469.66 1295.58,469.77 1297.9,469.89 1300.22,470 1302.55,470.1 1304.88,470.21 1307.2,470.31 1309.53,470.41 1311.85,470.51 1314.17,470.6 1316.5,470.69 1318.83,470.78 1321.15,470.87 1323.47,470.95 1325.8,471.04 1328.12,471.12 1330.45,471.2 1332.78,471.27 1335.1,471.35 1337.42,471.42 1339.75,471.49 1342.08,471.56 1344.4,471.63 1346.72,471.7 1349.05,471.76 1351.38,471.83 1353.7,471.89 1356.03,471.95 1358.35,472.01 1360.67,472.07 1363,472.13 1365.32,472.18 1367.65,472.24 1369.97,472.29 1372.3,472.34 1374.62,472.39 1376.95,472.44 1379.28,472.49 1381.6,472.54 1383.93,472.59 1386.25,472.63 1388.57,472.68 1390.9,472.72 1393.22,472.77 1395.55,472.81 1397.88,472.85 1400.2,472.89 1402.53,472.93 1404.85,472.97 1407.18,473.01 1409.5,473.05" fill="none" stroke="#1ec8c8" stroke-width="3.0" stroke-linejoin="round"/>
<polyline points="851.5,439.66 853.83,437.59 856.15,435.42 858.48,433.12 860.8,430.72 863.12,428.18 865.45,425.52 867.77,422.73 870.1,419.8 872.42,416.72 874.75,413.5 877.08,410.12 879.4,406.59 881.73,402.89 884.05,399.02 886.38,394.97 888.7,390.75 891.02,386.35 893.35,381.76 895.67,376.97 898,372 900.33,366.82 902.65,361.45 904.98,355.88 907.3,350.1 909.62,344.13 911.95,337.95 914.27,331.58 916.6,325.02 918.92,318.27 921.25,311.33 923.58,304.23 925.9,296.95 928.23,289.53 930.55,281.97 932.88,274.29 935.2,266.5 937.52,258.63 939.85,250.69 942.17,242.73 944.5,234.75 946.83,226.79 949.15,218.89 951.48,211.07 953.8,203.37 956.12,195.84 958.45,188.51 960.77,181.42 963.1,174.61 965.42,168.12 967.75,162 970.08,156.29 972.4,151.03 974.73,146.26 977.05,142 979.38,138.31 981.7,135.2 984.02,132.71 986.35,130.85 988.67,129.64 991,129.1 993.33,129.23 995.65,130.04 997.98,131.51 1000.3,133.65 1002.62,136.42 1004.95,139.82 1007.27,143.82 1009.6,148.38 1011.92,153.48 1014.25,159.07 1016.58,165.11 1018.9,171.57 1021.23,178.39 1023.55,185.53 1025.88,192.95 1028.2,200.61 1030.53,208.44 1032.85,216.42 1035.17,224.5 1037.5,232.63 1039.83,240.79 1042.15,248.93 1044.47,257.03 1046.8,265.05 1049.12,272.97 1051.45,280.76 1053.78,288.4 1056.1,295.88 1058.42,303.18 1060.75,310.28 1063.08,317.17 1065.4,323.85 1067.72,330.32 1070.05,336.56 1072.38,342.57 1074.7,348.36 1077.03,353.93 1079.35,359.27 1081.67,364.39 1084,369.29 1086.33,373.98 1088.65,378.46 1090.97,382.75 1093.3,386.83 1095.62,390.73 1097.95,394.45 1100.28,397.99 1102.6,401.36 1104.92,404.57 1107.25,407.63 1109.58,410.54 1111.9,413.31 1114.22,415.94 1116.55,418.44 1118.88,420.82 1121.2,423.09 1123.53,425.24 1125.85,427.29 1128.17,429.24 1130.5,431.09 1132.83,432.85 1135.15,434.53 1137.47,436.13 1139.8,437.65 1142.12,439.09 1144.45,440.47 1146.78,441.78 1149.1,443.03 1151.42,444.23 1153.75,445.36 1156.08,446.45 1158.4,447.48 1160.72,448.47 1163.05,449.41 1165.38,450.31 1167.7,451.17 1170.03,451.99 1172.35,452.77 1174.67,453.52 1177,454.24 1179.33,454.92 1181.65,455.58 1183.97,456.21 1186.3,456.81 1188.62,457.39 1190.95,457.94 1193.28,458.47 1195.6,458.98 1197.92,459.47 1200.25,459.94 1202.58,460.39 1204.9,460.82 1207.22,461.24 1209.55,461.64 1211.88,462.02 1214.2,462.39 1216.53,462.75 1218.85,463.09 1221.17,463.42 1223.5,463.74 1225.83,464.05 1228.15,464.35 1230.47,464.63 1232.8,464.91 1235.12,465.17 1237.45,465.43 1239.78,465.68 1242.1,465.92 1244.42,466.15 1246.75,466.37 1249.08,466.59 1251.4,466.8 1253.72,467 1256.05,467.19 1258.38,467.38 1260.7,467.57 1263.03,467.75 1265.35,467.92 1267.67,468.09 1270,468.25 1272.33,468.4 1274.65,468.56 1276.97,468.71 1279.3,468.85 1281.62,468.99 1283.95,469.12 1286.28,469.26 1288.6,469.38 1290.92,469.51 1293.25,469.63 1295.58,469.75 1297.9,469.86 1300.22,469.97 1302.55,470.08 1304.88,470.19 1307.2,470.29 1309.53,470.39 1311.85,470.48 1314.17,470.58 1316.5,470.67 1318.83,470.76 1321.15,470.85 1323.47,470.93 1325.8,471.02 1328.12,471.1 1330.45,471.18 1332.78,471.26 1335.1,471.33 1337.42,471.41 1339.75,471.48 1342.08,471.55 1344.4,471.62 1346.72,471.68 1349.05,471.75 1351.38,471.81 1353.7,471.88 1356.03,471.94 1358.35,472 1360.67,472.06 1363,472.11 1365.32,472.17 1367.65,472.22 1369.97,472.28 1372.3,472.33 1374.62,472.38 1376.95,472.43 1379.28,472.48 1381.6,472.53 1383.93,472.58 1386.25,472.62 1388.57,472.67 1390.9,472.71 1393.22,472.76 1395.55,472.8 1397.88,472.84 1400.2,472.88 1402.53,472.92 1404.85,472.96 1407.18,473 1409.5,473.04" fill="none" stroke="#23a05a" stroke-width="3.0" stroke-linejoin="round"/>
<polyline points="851.5,433.67 853.83,431.26 856.15,428.73 858.48,426.07 860.8,423.27 863.12,420.33 865.45,417.25 867.77,414.01 870.1,410.61 872.42,407.04 874.75,403.31 877.08,399.4 879.4,395.31 881.73,391.03 884.05,386.56 886.38,381.89 888.7,377.02 891.02,371.94 893.35,366.65 895.67,361.15 898,355.43 900.33,349.49 902.65,343.33 904.98,336.95 907.3,330.36 909.62,323.54 911.95,316.51 914.27,309.26 916.6,301.81 918.92,294.17 921.25,286.34 923.58,278.33 925.9,270.16 928.23,261.84 930.55,253.4 932.88,244.85 935.2,236.21 937.52,227.52 939.85,218.79 942.17,210.07 944.5,201.39 946.83,192.77 949.15,184.27 951.48,175.91 953.8,167.75 956.12,159.82 958.45,152.17 960.77,144.85 963.1,137.9 965.42,131.37 967.75,125.31 970.08,119.75 972.4,114.73 974.73,110.31 977.05,106.5 979.38,103.35 981.7,100.88 984.02,99.1 986.35,98.05 988.67,97.73 991,98.14 993.33,99.28 995.65,101.15 997.98,103.74 1000.3,107.01 1002.62,110.96 1004.95,115.54 1007.27,120.73 1009.6,126.49 1011.92,132.77 1014.25,139.52 1016.58,146.72 1018.9,154.29 1021.23,162.2 1023.55,170.4 1025.88,178.83 1028.2,187.45 1030.53,196.21 1032.85,205.06 1035.17,213.97 1037.5,222.89 1039.83,231.78 1042.15,240.61 1044.47,249.35 1046.8,257.98 1049.12,266.45 1051.45,274.76 1053.78,282.88 1056.1,290.8 1058.42,298.51 1060.75,305.99 1063.08,313.23 1065.4,320.23 1067.72,326.99 1070.05,333.5 1072.38,339.76 1074.7,345.78 1077.03,351.55 1079.35,357.08 1081.67,362.37 1084,367.44 1086.33,372.27 1088.65,376.89 1090.97,381.29 1093.3,385.49 1095.62,389.5 1097.95,393.31 1100.28,396.93 1102.6,400.38 1104.92,403.67 1107.25,406.79 1109.58,409.76 1111.9,412.58 1114.22,415.27 1116.55,417.82 1118.88,420.24 1121.2,422.54 1123.53,424.73 1125.85,426.82 1128.17,428.8 1130.5,430.68 1132.83,432.47 1135.15,434.17 1137.47,435.79 1139.8,437.33 1142.12,438.79 1144.45,440.19 1146.78,441.52 1149.1,442.79 1151.42,443.99 1153.75,445.14 1156.08,446.24 1158.4,447.28 1160.72,448.28 1163.05,449.23 1165.38,450.14 1167.7,451.01 1170.03,451.84 1172.35,452.63 1174.67,453.38 1177,454.11 1179.33,454.8 1181.65,455.46 1183.97,456.1 1186.3,456.71 1188.62,457.29 1190.95,457.85 1193.28,458.38 1195.6,458.9 1197.92,459.39 1200.25,459.86 1202.58,460.31 1204.9,460.75 1207.22,461.17 1209.55,461.57 1211.88,461.96 1214.2,462.33 1216.53,462.69 1218.85,463.04 1221.17,463.37 1223.5,463.69 1225.83,464 1228.15,464.3 1230.47,464.58 1232.8,464.86 1235.12,465.13 1237.45,465.39 1239.78,465.64 1242.1,465.88 1244.42,466.11 1246.75,466.33 1249.08,466.55 1251.4,466.76 1253.72,466.97 1256.05,467.16 1258.38,467.35 1260.7,467.54 1263.03,467.72 1265.35,467.89 1267.67,468.06 1270,468.22 1272.33,468.38 1274.65,468.53 1276.97,468.68 1279.3,468.83 1281.62,468.97 1283.95,469.1 1286.28,469.23 1288.6,469.36 1290.92,469.49 1293.25,469.61 1295.58,469.73 1297.9,469.84 1300.22,469.95 1302.55,470.06 1304.88,470.17 1307.2,470.27 1309.53,470.37 1311.85,470.47 1314.17,470.56 1316.5,470.66 1318.83,470.75 1321.15,470.84 1323.47,470.92 1325.8,471.01 1328.12,471.09 1330.45,471.17 1332.78,471.24 1335.1,471.32 1337.42,471.39 1339.75,471.47 1342.08,471.54 1344.4,471.61 1346.72,471.67 1349.05,471.74 1351.38,471.8 1353.7,471.87 1356.03,471.93 1358.35,471.99 1360.67,472.05 1363,472.1 1365.32,472.16 1367.65,472.22 1369.97,472.27 1372.3,472.32 1374.62,472.37 1376.95,472.42 1379.28,472.47 1381.6,472.52 1383.93,472.57 1386.25,472.62 1388.57,472.66 1390.9,472.71 1393.22,472.75 1395.55,472.79 1397.88,472.83 1400.2,472.88 1402.53,472.92 1404.85,472.96 1407.18,472.99 1409.5,473.03" fill="none" stroke="#8a8a10" stroke-width="3.0" stroke-linejoin="round"/>
<polyline points="851.5,425.71 853.83,422.86 856.15,419.86 858.48,416.71 860.8,413.39 863.12,409.92 865.45,406.27 867.77,402.44 870.1,398.43 872.42,394.22 874.75,389.82 877.08,385.21 879.4,380.39 881.73,375.36 884.05,370.1 886.38,364.62 888.7,358.91 891.02,352.96 893.35,346.77 895.67,340.34 898,333.67 900.33,326.75 902.65,319.59 904.98,312.18 907.3,304.54 909.62,296.66 911.95,288.55 914.27,280.21 916.6,271.66 918.92,262.92 921.25,253.98 923.58,244.88 925.9,235.62 928.23,226.24 930.55,216.75 932.88,207.18 935.2,197.57 937.52,187.94 939.85,178.34 942.17,168.79 944.5,159.35 946.83,150.06 949.15,140.96 951.48,132.1 953.8,123.53 956.12,115.3 958.45,107.46 960.77,100.06 963.1,93.15 965.42,86.78 967.75,80.99 970.08,75.83 972.4,71.34 974.73,67.56 977.05,64.51 979.38,62.23 981.7,60.72 984.02,60.02 986.35,60.12 988.67,61.02 991,62.73 993.33,65.22 995.65,68.49 997.98,72.5 1000.3,77.23 1002.62,82.63 1004.95,88.68 1007.27,95.33 1009.6,102.52 1011.92,110.22 1014.25,118.36 1016.58,126.89 1018.9,135.76 1021.23,144.92 1023.55,154.31 1025.88,163.88 1028.2,173.58 1030.53,183.36 1032.85,193.18 1035.17,203 1037.5,212.77 1039.83,222.45 1042.15,232.03 1044.47,241.46 1046.8,250.72 1049.12,259.79 1051.45,268.64 1053.78,277.27 1056.1,285.65 1058.42,293.79 1060.75,301.66 1063.08,309.26 1065.4,316.59 1067.72,323.65 1070.05,330.44 1072.38,336.95 1074.7,343.2 1077.03,349.18 1079.35,354.9 1081.67,360.37 1084,365.6 1086.33,370.58 1088.65,375.33 1090.97,379.86 1093.3,384.17 1095.62,388.27 1097.95,392.18 1100.28,395.89 1102.6,399.42 1104.92,402.78 1107.25,405.96 1109.58,408.99 1111.9,411.87 1114.22,414.6 1116.55,417.2 1118.88,419.67 1121.2,422.01 1123.53,424.24 1125.85,426.35 1128.17,428.36 1130.5,430.27 1132.83,432.09 1135.15,433.82 1137.47,435.46 1139.8,437.02 1142.12,438.5 1144.45,439.92 1146.78,441.26 1149.1,442.54 1151.42,443.76 1153.75,444.93 1156.08,446.03 1158.4,447.09 1160.72,448.1 1163.05,449.06 1165.38,449.98 1167.7,450.85 1170.03,451.69 1172.35,452.49 1174.67,453.25 1177,453.98 1179.33,454.68 1181.65,455.35 1183.97,455.99 1186.3,456.6 1188.62,457.19 1190.95,457.75 1193.28,458.29 1195.6,458.81 1197.92,459.31 1200.25,459.78 1202.58,460.24 1204.9,460.68 1207.22,461.1 1209.55,461.51 1211.88,461.9 1214.2,462.27 1216.53,462.64 1218.85,462.98 1221.17,463.32 1223.5,463.64 1225.83,463.95 1228.15,464.25 1230.47,464.54 1232.8,464.82 1235.12,465.09 1237.45,465.35 1239.78,465.6 1242.1,465.84 1244.42,466.07 1246.75,466.3 1249.08,466.52 1251.4,466.73 1253.72,466.93 1256.05,467.13 1258.38,467.32 1260.7,467.51 1263.03,467.69 1265.35,467.86 1267.67,468.03 1270,468.2 1272.33,468.36 1274.65,468.51 1276.97,468.66 1279.3,468.8 1281.62,468.94 1283.95,469.08 1286.28,469.21 1288.6,469.34 1290.92,469.47 1293.25,469.59 1295.58,469.71 1297.9,469.82 1300.22,469.94 1302.55,470.05 1304.88,470.15 1307.2,470.26 1309.53,470.36 1311.85,470.45 1314.17,470.55 1316.5,470.64 1318.83,470.73 1321.15,470.82 1323.47,470.91 1325.8,470.99 1328.12,471.07 1330.45,471.15 1332.78,471.23 1335.1,471.31 1337.42,471.38 1339.75,471.46 1342.08,471.53 1344.4,471.6 1346.72,471.66 1349.05,471.73 1351.38,471.79 1353.7,471.86 1356.03,471.92 1358.35,471.98 1360.67,472.04 1363,472.1 1365.32,472.15 1367.65,472.21 1369.97,472.26 1372.3,472.31 1374.62,472.37 1376.95,472.42 1379.28,472.47 1381.6,472.51 1383.93,472.56 1386.25,472.61 1388.57,472.65 1390.9,472.7 1393.22,472.74 1395.55,472.79 1397.88,472.83 1400.2,472.87 1402.53,472.91 1404.85,472.95 1407.18,472.99 1409.5,473.03" fill="none" stroke="#1f63dc" stroke-width="3.0" stroke-linejoin="round"/>
</g>
<rect x="851.5" y="26.3" width="559.0" height="449.7" fill="none" stroke="#000" stroke-width="3.0"/>
<line x1="851.5" y1="411.75" x2="859.5" y2="411.75" stroke="#000" stroke-width="3.0"/>
<line x1="851.5" y1="347.5" x2="859.5" y2="347.5" stroke="#000" stroke-width="3.0"/>
<line x1="851.5" y1="283.25" x2="859.5" y2="283.25" stroke="#000" stroke-width="3.0"/>
<line x1="851.5" y1="219" x2="859.5" y2="219" stroke="#000" stroke-width="3.0"/>
<line x1="851.5" y1="154.75" x2="859.5" y2="154.75" stroke="#000" stroke-width="3.0"/>
<line x1="851.5" y1="90.5" x2="859.5" y2="90.5" stroke="#000" stroke-width="3.0"/>
<line x1="851.5" y1="26.25" x2="859.5" y2="26.25" stroke="#000" stroke-width="3.0"/>
<line x1="851.5" y1="443.88" x2="856.0" y2="443.88" stroke="#000" stroke-width="3.0"/>
<line x1="851.5" y1="379.62" x2="856.0" y2="379.62" stroke="#000" stroke-width="3.0"/>
<line x1="851.5" y1="315.38" x2="856.0" y2="315.38" stroke="#000" stroke-width="3.0"/>
<line x1="851.5" y1="251.12" x2="856.0" y2="251.12" stroke="#000" stroke-width="3.0"/>
<line x1="851.5" y1="186.88" x2="856.0" y2="186.88" stroke="#000" stroke-width="3.0"/>
<line x1="851.5" y1="122.62" x2="856.0" y2="122.62" stroke="#000" stroke-width="3.0"/>
<line x1="851.5" y1="58.38" x2="856.0" y2="58.38" stroke="#000" stroke-width="3.0"/>
<line x1="913.5" y1="476" x2="913.5" y2="468" stroke="#000" stroke-width="3.0"/>
<line x1="975.5" y1="476" x2="975.5" y2="468" stroke="#000" stroke-width="3.0"/>
<line x1="1037.5" y1="476" x2="1037.5" y2="468" stroke="#000" stroke-width="3.0"/>
<line x1="1099.5" y1="476" x2="1099.5" y2="468" stroke="#000" stroke-width="3.0"/>
<line x1="1161.5" y1="476" x2="1161.5" y2="468" stroke="#000" stroke-width="3.0"/>
<line x1="1223.5" y1="476" x2="1223.5" y2="468" stroke="#000" stroke-width="3.0"/>
<line x1="1285.5" y1="476" x2="1285.5" y2="468" stroke="#000" stroke-width="3.0"/>
<line x1="1347.5" y1="476" x2="1347.5" y2="468" stroke="#000" stroke-width="3.0"/>
<text x="841" y="483.8" font-size="25" text-anchor="end" font-weight="bold" font-style="normal" fill="#000" font-family='"Liberation Sans", sans-serif' >0.0</text>
<text x="841" y="419.55" font-size="25" text-anchor="end" font-weight="bold" font-style="normal" fill="#000" font-family='"Liberation Sans", sans-serif' >0.5</text>
<text x="841" y="355.3" font-size="25" text-anchor="end" font-weight="bold" font-style="normal" fill="#000" font-family='"Liberation Sans", sans-serif' >1.0</text>
<text x="841" y="291.05" font-size="25" text-anchor="end" font-weight="bold" font-style="normal" fill="#000" font-family='"Liberation Sans", sans-serif' >1.5</text>
<text x="841" y="226.8" font-size="25" text-anchor="end" font-weight="bold" font-style="normal" fill="#000" font-family='"Liberation Sans", sans-serif' >2.0</text>
<text x="841" y="162.55" font-size="25" text-anchor="end" font-weight="bold" font-style="normal" fill="#000" font-family='"Liberation Sans", sans-serif' >2.5</text>
<text x="841" y="98.3" font-size="25" text-anchor="end" font-weight="bold" font-style="normal" fill="#000" font-family='"Liberation Sans", sans-serif' >3.0</text>
<text x="841" y="34.05" font-size="25" text-anchor="end" font-weight="bold" font-style="normal" fill="#000" font-family='"Liberation Sans", sans-serif' >3.5</text>
<text x="851.5" y="505" font-size="25" text-anchor="middle" font-weight="bold" font-style="normal" fill="#000" font-family='"Liberation Sans", sans-serif' >-6</text>
<text x="913.5" y="505" font-size="25" text-anchor="middle" font-weight="bold" font-style="normal" fill="#000" font-family='"Liberation Sans", sans-serif' >-4</text>
<text x="975.5" y="505" font-size="25" text-anchor="middle" font-weight="bold" font-style="normal" fill="#000" font-family='"Liberation Sans", sans-serif' >-2</text>
<text x="1037.5" y="505" font-size="25" text-anchor="middle" font-weight="bold" font-style="normal" fill="#000" font-family='"Liberation Sans", sans-serif' >0</text>
<text x="1099.5" y="505" font-size="25" text-anchor="middle" font-weight="bold" font-style="normal" fill="#000" font-family='"Liberation Sans", sans-serif' >2</text>
<text x="1161.5" y="505" font-size="25" text-anchor="middle" font-weight="bold" font-style="normal" fill="#000" font-family='"Liberation Sans", sans-serif' >4</text>
<text x="1223.5" y="505" font-size="25" text-anchor="middle" font-weight="bold" font-style="normal" fill="#000" font-family='"Liberation Sans", sans-serif' >6</text>
<text x="1285.5" y="505" font-size="25" text-anchor="middle" font-weight="bold" font-style="normal" fill="#000" font-family='"Liberation Sans", sans-serif' >8</text>
<text x="1347.5" y="505" font-size="25" text-anchor="middle" font-weight="bold" font-style="normal" fill="#000" font-family='"Liberation Sans", sans-serif' >10</text>
<text x="1409.5" y="505" font-size="25" text-anchor="middle" font-weight="bold" font-style="normal" fill="#000" font-family='"Liberation Sans", sans-serif' >12</text>
<text x="764" y="47" font-size="50" text-anchor="start" font-weight="bold" font-style="normal" fill="#000" font-family='"Liberation Sans", sans-serif' >b</text>
<text transform="translate(789,289) rotate(-90)" font-size="29" font-weight="bold" font-family='"Liberation Sans", sans-serif'><tspan font-style="italic">ZT</tspan><tspan font-size="20.5" dy="8">max</tspan></text>
<text x="1124" y="550" font-size="36" font-weight="bold" font-style="italic" font-family='"Liberation Serif", serif'>η<tspan font-size="24" dy="5" dx="4">F</tspan></text>
<path d="M1012.4,172.1 L1020.4,180.1 L1012.4,188.1 L1004.4,180.1 Z" fill="#0000ff"/>
<path d="M1024.9,223.5 L1032.9,231.5 L1024.9,239.5 L1016.9,231.5 Z" fill="#ff0000"/>
<path d="M1044.2,260.5 L1052.2,268.5 L1044.2,276.5 L1036.2,268.5 Z" fill="#ff8000"/>
<path d="M1048.4,275 L1056.4,283 L1048.4,291 L1040.4,283 Z" fill="#800080"/>
<path d="M1083,371 L1091,379 L1083,387 L1075,379 Z" fill="#00ffff"/>
<circle cx="1031.7" cy="183.3" r="8.5" fill="url(#sb)"/>
<circle cx="1036.9" cy="221.7" r="8.5" fill="url(#sgr)"/>
<circle cx="1026.9" cy="263.3" r="8.5" fill="url(#sr)"/>
<circle cx="1038" cy="303.8" r="8.5" fill="url(#sg)"/>
<path d="M1064,178 C1056,170 1049,165 1038,164.6 L1025,164.8" fill="none" stroke="#0000ff" stroke-width="1.1" stroke-dasharray="2,1.2"/>
<path d="M1014.5,167.8 L1024,160.8 L1027,165 L1024.5,167.5 z" fill="#0000ff"/>
<text x="1052" y="193.5" font-size="16.8" font-weight="bold" font-style="italic" fill="#0000ff" font-family='"Liberation Sans", sans-serif'>Jiang et al. Nat Commun.</text>
<line x1="1042.5" y1="260" x2="1055" y2="247" stroke="#ff8000" stroke-width="1.1" stroke-dasharray="1.6,1"/>
<path d="M1062.5,240 L1053.2,246 L1056.8,249.8 z" fill="#ff8000"/>
<text x="1065" y="246" font-size="16.7" font-weight="bold" font-style="italic" fill="#ff8000" font-family='"Liberation Sans", sans-serif'>Dong et al.</text>
<text x="1065" y="269" font-size="16.7" font-weight="bold" font-style="italic" fill="#ff8000" font-family='"Liberation Sans", sans-serif'>Energy Environ Sci.</text>
<circle cx="1110" cy="58.7" r="9" fill="url(#sg)"/>
<text x="1149" y="67.7" font-size="25" font-weight="bold" font-family='"Liberation Sans", sans-serif'><tspan font-style="italic">x</tspan> = 0.0</text>
<circle cx="1110" cy="90.6" r="9" fill="url(#sr)"/>
<text x="1149" y="99.6" font-size="25" font-weight="bold" font-family='"Liberation Sans", sans-serif'><tspan font-style="italic">x</tspan> = 0.3</text>
<circle cx="1110" cy="122.7" r="9" fill="url(#sb)"/>
<text x="1149" y="131.7" font-size="25" font-weight="bold" font-family='"Liberation Sans", sans-serif'><tspan font-style="italic">x</tspan> = 0.9</text>
<circle cx="1110" cy="154.3" r="9" fill="url(#sgr)"/>
<text x="1149" y="163.3" font-size="25" font-weight="bold" font-family='"Liberation Sans", sans-serif'><tspan font-style="italic">x</tspan> = 1.5</text>
<line x1="1263" y1="50.8" x2="1312" y2="50.8" stroke="#8c8c8c" stroke-width="2.6"/>
<text x="1324" y="59.3" font-size="23" font-weight="bold" font-family='"Liberation Sans", sans-serif'>B = 0.3</text>
<line x1="1263" y1="77.9" x2="1312" y2="77.9" stroke="#3c3c3c" stroke-width="2.6"/>
<text x="1324" y="86.4" font-size="23" font-weight="bold" font-family='"Liberation Sans", sans-serif'>B = 0.7</text>
<line x1="1263" y1="107.4" x2="1312" y2="107.4" stroke="#f03a3a" stroke-width="2.6"/>
<text x="1324" y="115.9" font-size="23" font-weight="bold" font-family='"Liberation Sans", sans-serif'>B = 0.9</text>
<line x1="1263" y1="136.7" x2="1312" y2="136.7" stroke="#d4a000" stroke-width="2.6"/>
<text x="1324" y="145.2" font-size="23" font-weight="bold" font-family='"Liberation Sans", sans-serif'>B = 1.2</text>
<line x1="1263" y1="166.7" x2="1312" y2="166.7" stroke="#1ec8c8" stroke-width="2.6"/>
<text x="1324" y="175.2" font-size="23" font-weight="bold" font-family='"Liberation Sans", sans-serif'>B = 1.5</text>
<line x1="1263" y1="195.7" x2="1312" y2="195.7" stroke="#23a05a" stroke-width="2.6"/>
<text x="1324" y="204.2" font-size="23" font-weight="bold" font-family='"Liberation Sans", sans-serif'>B = 1.8</text>
<line x1="1263" y1="224.9" x2="1312" y2="224.9" stroke="#8a8a10" stroke-width="2.6"/>
<text x="1324" y="233.4" font-size="23" font-weight="bold" font-family='"Liberation Sans", sans-serif'>B = 2.1</text>
<line x1="1263" y1="252.3" x2="1312" y2="252.3" stroke="#1f63dc" stroke-width="2.6"/>
<text x="1324" y="260.8" font-size="23" font-weight="bold" font-family='"Liberation Sans", sans-serif'>B = 2.5</text>
<path d="M1167.7,285.2 L1176.2,293.7 L1167.7,302.2 L1159.2,293.7 Z" fill="#ff0000"/>
<text x="1200" y="301.2" font-size="21" font-weight="bold" font-family='"Liberation Sans", sans-serif'>Ge<tspan font-size="14.5" dy="6">0.945</tspan><tspan dy="-6">Ti</tspan><tspan font-size="14.5" dy="6">0.015</tspan><tspan dy="-6">Bi</tspan><tspan font-size="14.5" dy="6">0.06</tspan><tspan dy="-6">Te</tspan></text>
<path d="M1167.7,316.4 L1176.2,324.9 L1167.7,333.4 L1159.2,324.9 Z" fill="#0000ff"/>
<text x="1200" y="332.4" font-size="21" font-weight="bold" font-family='"Liberation Sans", sans-serif'>Ge<tspan font-size="14.5" dy="6">0.9</tspan><tspan dy="-6">Bi</tspan><tspan font-size="14.5" dy="6">0.07</tspan><tspan dy="-6">Te</tspan></text>
<path d="M1167.7,347.8 L1176.2,356.3 L1167.7,364.8 L1159.2,356.3 Z" fill="#00ffff"/>
<text x="1200" y="363.8" font-size="21" font-weight="bold" font-family='"Liberation Sans", sans-serif'>GeTe</text>
<path d="M1167.7,374.4 L1176.2,382.9 L1167.7,391.4 L1159.2,382.9 Z" fill="#800080"/>
<text x="1200" y="390.4" font-size="21" font-weight="bold" font-family='"Liberation Sans", sans-serif'>Ge<tspan font-size="14.5" dy="6">1.01</tspan><tspan dy="-6">In</tspan><tspan font-size="14.5" dy="6">0.01</tspan><tspan dy="-6">Te</tspan></text>
<path d="M1167.7,405.5 L1176.2,414 L1167.7,422.5 L1159.2,414 Z" fill="#ff8000"/>
<text x="1200" y="421.5" font-size="21" font-weight="bold" font-family='"Liberation Sans", sans-serif'>Ge<tspan font-size="14.5" dy="6">1.01</tspan><tspan dy="-6">Te</tspan></text>
<rect x="155.7" y="687.78" width="55" height="371.22" fill="#f24040"/>
<rect x="238.9" y="792.69" width="55" height="266.31" fill="#1a6bdb"/>
<rect x="322.1" y="839.5" width="55" height="219.5" fill="#2faa68"/>
<rect x="405.3" y="623.22" width="55" height="435.78" fill="#b071dc"/>
<rect x="488.5" y="768.48" width="55" height="290.52" fill="#cc9900"/>
<rect x="571.7" y="687.78" width="55" height="371.22" fill="#00cccc"/>
<rect x="654.9" y="789.46" width="55" height="269.54" fill="#7b4a4a"/>
<line x1="142" y1="687.78" x2="724" y2="687.78" stroke="#ff0000" stroke-width="3.1" stroke-dasharray="11,4.45" stroke-dashoffset="13.55"/>
<rect x="142" y="590.5" width="582" height="468.5" fill="none" stroke="#000" stroke-width="3.0"/>
<line x1="142" y1="978.3" x2="150" y2="978.3" stroke="#000" stroke-width="3.0"/>
<line x1="142" y1="897.6" x2="150" y2="897.6" stroke="#000" stroke-width="3.0"/>
<line x1="142" y1="816.9" x2="150" y2="816.9" stroke="#000" stroke-width="3.0"/>
<line x1="142" y1="736.2" x2="150" y2="736.2" stroke="#000" stroke-width="3.0"/>
<line x1="142" y1="655.5" x2="150" y2="655.5" stroke="#000" stroke-width="3.0"/>
<line x1="142" y1="1018.65" x2="146.5" y2="1018.65" stroke="#000" stroke-width="3.0"/>
<line x1="142" y1="937.95" x2="146.5" y2="937.95" stroke="#000" stroke-width="3.0"/>
<line x1="142" y1="857.25" x2="146.5" y2="857.25" stroke="#000" stroke-width="3.0"/>
<line x1="142" y1="776.55" x2="146.5" y2="776.55" stroke="#000" stroke-width="3.0"/>
<line x1="142" y1="695.85" x2="146.5" y2="695.85" stroke="#000" stroke-width="3.0"/>
<line x1="142" y1="615.15" x2="146.5" y2="615.15" stroke="#000" stroke-width="3.0"/>
<text x="131" y="1068" font-size="25" text-anchor="end" font-weight="bold" font-style="normal" fill="#000" font-family='"Liberation Sans", sans-serif' >0.0</text>
<text x="131" y="987.3" font-size="25" text-anchor="end" font-weight="bold" font-style="normal" fill="#000" font-family='"Liberation Sans", sans-serif' >0.5</text>
<text x="131" y="906.6" font-size="25" text-anchor="end" font-weight="bold" font-style="normal" fill="#000" font-family='"Liberation Sans", sans-serif' >1.0</text>
<text x="131" y="825.9" font-size="25" text-anchor="end" font-weight="bold" font-style="normal" fill="#000" font-family='"Liberation Sans", sans-serif' >1.5</text>
<text x="131" y="745.2" font-size="25" text-anchor="end" font-weight="bold" font-style="normal" fill="#000" font-family='"Liberation Sans", sans-serif' >2.0</text>
<text x="131" y="664.5" font-size="25" text-anchor="end" font-weight="bold" font-style="normal" fill="#000" font-family='"Liberation Sans", sans-serif' >2.5</text>
<text x="60.5" y="621" font-size="50" text-anchor="start" font-weight="bold" font-style="normal" fill="#000" font-family='"Liberation Sans", sans-serif' >c</text>
<text transform="translate(77,865) rotate(-90)" font-size="31" font-weight="bold" font-family='"Liberation Sans", sans-serif'><tspan font-style="italic">ZT</tspan><tspan font-size="20.5" dy="8">max</tspan></text>
<text transform="translate(155.7,676) scale(1.0,1)" font-size="26" text-anchor="start" font-weight="bold" font-style="italic" fill="#000" font-family='"Liberation Serif", serif' >ZT</text>
<text transform="translate(190,681.5) scale(1.0,1)" font-size="24" text-anchor="start" font-weight="normal" font-style="italic" fill="#000" font-family='"Liberation Serif", serif' >max</text>
<text transform="translate(233,676) scale(1.05,1)" font-size="27" text-anchor="start" font-weight="bold" font-style="normal" fill="#000" font-family='"Liberation Serif", serif' >~</text>
<text transform="translate(251.9,676) scale(1.0,1)" font-size="26" text-anchor="start" font-weight="bold" font-style="normal" fill="#000" font-family='"Liberation Serif", serif' letter-spacing="2.4">2.3</text>
<text transform="translate(186.7,1084.5) rotate(-30)" text-anchor="end" font-size="24" font-weight="bold" fill="#f24040" font-family='"Liberation Sans", sans-serif'>This Work</text>
<text transform="translate(275.9,1078) rotate(-30)" text-anchor="end" font-size="24" font-weight="bold" fill="#1a6bdb" font-family='"Liberation Sans", sans-serif'>Ge<tspan font-size="16" dy="5">0.96</tspan><tspan dy="-5">Bi</tspan><tspan font-size="16" dy="5">0.06</tspan><tspan dy="-5">Te-4% mol Fe</tspan></text>
<text transform="translate(354.6,1079) rotate(-30)" text-anchor="end" font-size="24" font-weight="bold" fill="#2faa68" font-family='"Liberation Sans", sans-serif'>Ge<tspan font-size="16" dy="5">0.96</tspan><tspan dy="-5">Cd</tspan><tspan font-size="16" dy="5">0.02</tspan><tspan dy="-5">Sb</tspan><tspan font-size="16" dy="5">0.08</tspan><tspan dy="-5">Se</tspan><tspan font-size="16" dy="5">0.75</tspan><tspan dy="-5">Te</tspan><tspan font-size="16" dy="5">0.25</tspan></text>
<text transform="translate(440.8,1079) rotate(-30)" text-anchor="end" font-size="24" font-weight="bold" fill="#b071dc" font-family='"Liberation Sans", sans-serif'>Ge<tspan font-size="16" dy="5">0.61</tspan><tspan dy="-5">Ag</tspan><tspan font-size="16" dy="5">0.11</tspan><tspan dy="-5">Sb</tspan><tspan font-size="16" dy="5">0.13</tspan><tspan dy="-5">Pb</tspan><tspan font-size="16" dy="5">0.12</tspan><tspan dy="-5">Bi</tspan><tspan font-size="16" dy="5">0.01</tspan><tspan dy="-5">Te</tspan></text>
<text transform="translate(522,1085) rotate(-30)" text-anchor="end" font-size="24" font-weight="bold" fill="#cc9900" font-family='"Liberation Sans", sans-serif'>Ge<tspan font-size="16" dy="5">0.92</tspan><tspan dy="-5">Cd</tspan><tspan font-size="16" dy="5">0.03</tspan><tspan dy="-5">Sb</tspan><tspan font-size="16" dy="5">0.08</tspan><tspan dy="-5">Te</tspan></text>
<text transform="translate(605.2,1082) rotate(-30)" text-anchor="end" font-size="24" font-weight="bold" fill="#00cccc" font-family='"Liberation Sans", sans-serif'>Ge<tspan font-size="16" dy="5">0.9</tspan><tspan dy="-5">Bi</tspan><tspan font-size="16" dy="5">0.07</tspan><tspan dy="-5">Te</tspan></text>
<text transform="translate(693.4,1081) rotate(-30)" text-anchor="end" font-size="24" font-weight="bold" fill="#7b4a4a" font-family='"Liberation Sans", sans-serif'>Ge<tspan font-size="16" dy="5">0.87</tspan><tspan dy="-5">Mn</tspan><tspan font-size="16" dy="5">0.05</tspan><tspan dy="-5">Sb</tspan><tspan font-size="16" dy="5">0.08</tspan><tspan dy="-5">Te</tspan></text>
<rect x="853" y="590.5" width="572" height="460.79999999999995" fill="none" stroke="#000" stroke-width="3.0"/>
<line x1="853" y1="995" x2="861" y2="995" stroke="#000" stroke-width="3.0"/>
<line x1="853" y1="882.4" x2="861" y2="882.4" stroke="#000" stroke-width="3.0"/>
<line x1="853" y1="769.8" x2="861" y2="769.8" stroke="#000" stroke-width="3.0"/>
<line x1="853" y1="657.2" x2="861" y2="657.2" stroke="#000" stroke-width="3.0"/>
<line x1="853" y1="1051.3" x2="857.5" y2="1051.3" stroke="#000" stroke-width="3.0"/>
<line x1="853" y1="938.7" x2="857.5" y2="938.7" stroke="#000" stroke-width="3.0"/>
<line x1="853" y1="826.1" x2="857.5" y2="826.1" stroke="#000" stroke-width="3.0"/>
<line x1="853" y1="713.5" x2="857.5" y2="713.5" stroke="#000" stroke-width="3.0"/>
<line x1="853" y1="600.9" x2="857.5" y2="600.9" stroke="#000" stroke-width="3.0"/>
<line x1="878.5" y1="1051.3" x2="878.5" y2="1043.3" stroke="#000" stroke-width="3.0"/>
<line x1="982.54" y1="1051.3" x2="982.54" y2="1043.3" stroke="#000" stroke-width="3.0"/>
<line x1="1086.58" y1="1051.3" x2="1086.58" y2="1043.3" stroke="#000" stroke-width="3.0"/>
<line x1="1190.62" y1="1051.3" x2="1190.62" y2="1043.3" stroke="#000" stroke-width="3.0"/>
<line x1="1294.66" y1="1051.3" x2="1294.66" y2="1043.3" stroke="#000" stroke-width="3.0"/>
<line x1="1398.7" y1="1051.3" x2="1398.7" y2="1043.3" stroke="#000" stroke-width="3.0"/>
<line x1="930.52" y1="1051.3" x2="930.52" y2="1046.8" stroke="#000" stroke-width="3.0"/>
<line x1="1034.56" y1="1051.3" x2="1034.56" y2="1046.8" stroke="#000" stroke-width="3.0"/>
<line x1="1138.6" y1="1051.3" x2="1138.6" y2="1046.8" stroke="#000" stroke-width="3.0"/>
<line x1="1242.64" y1="1051.3" x2="1242.64" y2="1046.8" stroke="#000" stroke-width="3.0"/>
<line x1="1346.68" y1="1051.3" x2="1346.68" y2="1046.8" stroke="#000" stroke-width="3.0"/>
<text x="843" y="1004" font-size="25" text-anchor="end" font-weight="bold" font-style="normal" fill="#000" font-family='"Liberation Sans", sans-serif' >0.00</text>
<text x="843" y="891.4" font-size="25" text-anchor="end" font-weight="bold" font-style="normal" fill="#000" font-family='"Liberation Sans", sans-serif' >0.05</text>
<text x="843" y="778.8" font-size="25" text-anchor="end" font-weight="bold" font-style="normal" fill="#000" font-family='"Liberation Sans", sans-serif' >0.10</text>
<text x="843" y="666.2" font-size="25" text-anchor="end" font-weight="bold" font-style="normal" fill="#000" font-family='"Liberation Sans", sans-serif' >0.15</text>
<text x="878.5" y="1081" font-size="25" text-anchor="middle" font-weight="bold" font-style="normal" fill="#000" font-family='"Liberation Sans", sans-serif' >300</text>
<text x="982.54" y="1081" font-size="25" text-anchor="middle" font-weight="bold" font-style="normal" fill="#000" font-family='"Liberation Sans", sans-serif' >400</text>
<text x="1086.58" y="1081" font-size="25" text-anchor="middle" font-weight="bold" font-style="normal" fill="#000" font-family='"Liberation Sans", sans-serif' >500</text>
<text x="1190.62" y="1081" font-size="25" text-anchor="middle" font-weight="bold" font-style="normal" fill="#000" font-family='"Liberation Sans", sans-serif' >600</text>
<text x="1294.66" y="1081" font-size="25" text-anchor="middle" font-weight="bold" font-style="normal" fill="#000" font-family='"Liberation Sans", sans-serif' >700</text>
<text x="1398.7" y="1081" font-size="25" text-anchor="middle" font-weight="bold" font-style="normal" fill="#000" font-family='"Liberation Sans", sans-serif' >800</text>
<text x="762.5" y="620.5" font-size="50" text-anchor="start" font-weight="bold" font-style="normal" fill="#000" font-family='"Liberation Sans", sans-serif' >d</text>
<text transform="translate(782,831.5) rotate(-90)" font-size="31" font-weight="bold" font-style="italic" font-family='"Liberation Serif", serif'>η</text>
<text x="1100" y="1129" font-size="29" font-weight="bold" font-family='"Liberation Sans", sans-serif'><tspan font-style="italic">T</tspan><tspan font-size="22" dy="7" dx="-2">h</tspan><tspan dy="-7"> (K)</tspan></text>
<polyline points="878.5,995 930.52,974.96 982.54,942.3 1034.56,900.42 1086.58,861.91 1138.6,820.92 1190.62,776.33 1242.64,729.94 1294.66,695.03 1346.68,662.15 1398.7,622.52" fill="none" stroke="#4a4a4a" stroke-width="3" stroke-linejoin="round"/>
<rect x="872" y="988.5" width="13" height="13" fill="#4a4a4a"/>
<rect x="924.02" y="968.46" width="13" height="13" fill="#4a4a4a"/>
<rect x="976.04" y="935.8" width="13" height="13" fill="#4a4a4a"/>
<rect x="1028.06" y="893.92" width="13" height="13" fill="#4a4a4a"/>
<rect x="1080.08" y="855.41" width="13" height="13" fill="#4a4a4a"/>
<rect x="1132.1" y="814.42" width="13" height="13" fill="#4a4a4a"/>
<rect x="1184.12" y="769.83" width="13" height="13" fill="#4a4a4a"/>
<rect x="1236.14" y="723.44" width="13" height="13" fill="#4a4a4a"/>
<rect x="1288.16" y="688.53" width="13" height="13" fill="#4a4a4a"/>
<rect x="1340.18" y="655.65" width="13" height="13" fill="#4a4a4a"/>
<rect x="1392.2" y="616.02" width="13" height="13" fill="#4a4a4a"/>
<polyline points="878.5,995 930.52,978.11 982.54,949.96 1034.56,915.73 1086.58,886.23 1138.6,856.05 1190.62,822.27 1242.64,789.62 1294.66,766.65 1346.68,743.23 1398.7,715.53" fill="none" stroke="#f03a3a" stroke-width="2.6" stroke-linejoin="round"/>
<circle cx="878.5" cy="995" r="7" fill="#f03a3a"/>
<circle cx="930.52" cy="978.11" r="7" fill="#f03a3a"/>
<circle cx="982.54" cy="949.96" r="7" fill="#f03a3a"/>
<circle cx="1034.56" cy="915.73" r="7" fill="#f03a3a"/>
<circle cx="1086.58" cy="886.23" r="7" fill="#f03a3a"/>
<circle cx="1138.6" cy="856.05" r="7" fill="#f03a3a"/>
<circle cx="1190.62" cy="822.27" r="7" fill="#f03a3a"/>
<circle cx="1242.64" cy="789.62" r="7" fill="#f03a3a"/>
<circle cx="1294.66" cy="766.65" r="7" fill="#f03a3a"/>
<circle cx="1346.68" cy="743.23" r="7" fill="#f03a3a"/>
<circle cx="1398.7" cy="715.53" r="7" fill="#f03a3a"/>
<line x1="863.5" y1="614.2" x2="924" y2="614.2" stroke="#4a4a4a" stroke-width="3"/>
<rect x="887" y="607.7" width="13" height="13" fill="#4a4a4a"/>
<line x1="863.5" y1="655.6" x2="924" y2="655.6" stroke="#f03a3a" stroke-width="2.6"/>
<circle cx="893.4" cy="655.6" r="7" fill="#f03a3a"/>
<text x="933" y="626" font-size="24" font-style="italic" font-family='"Liberation Serif", serif'>η</text>
<text x="952" y="630" font-size="18" font-weight="bold" font-family='"Liberation Sans", sans-serif'>ideal</text>
<text x="933" y="667" font-size="24" font-style="italic" font-family='"Liberation Serif", serif'>η</text>
<text x="952" y="671" font-size="18" font-weight="bold" font-family='"Liberation Sans", sans-serif'>realistic</text>
<text transform="translate(895.1,713.6) scale(1.0,1)" font-size="21" text-anchor="start" font-weight="bold" font-style="italic" fill="#ff0000" font-family='"Liberation Serif", serif' >ZT</text>
<text transform="translate(922.5,717.6) scale(1.0,1)" font-size="19" text-anchor="start" font-weight="normal" font-style="italic" fill="#ff0000" font-family='"Liberation Serif", serif' >max</text>
<text transform="translate(962.6,713.6) scale(1.08,1)" font-size="21" text-anchor="start" font-weight="bold" font-style="normal" fill="#ff0000" font-family='"Liberation Serif", serif' >=</text>
<text transform="translate(983.4,713.6) scale(1.0,1)" font-size="21" text-anchor="start" font-weight="bold" font-style="normal" fill="#ff0000" font-family='"Liberation Serif", serif' letter-spacing="2.6">2.3</text>
<text transform="translate(896.2,750.7) scale(1.26,1)" font-size="21" text-anchor="start" font-weight="bold" font-style="italic" fill="#ff0000" font-family='"Liberation Serif", serif' >k/k</text>
<text transform="translate(931.7,754.7) scale(1.0,1)" font-size="17" text-anchor="start" font-weight="bold" font-style="italic" fill="#ff0000" font-family='"Liberation Serif", serif' >ec</text>
<text transform="translate(956.4,750.7) scale(1.08,1)" font-size="21" text-anchor="start" font-weight="bold" font-style="normal" fill="#ff0000" font-family='"Liberation Serif", serif' >=</text>
<text transform="translate(977.2,750.7) scale(1.0,1)" font-size="21" text-anchor="start" font-weight="bold" font-style="normal" fill="#ff0000" font-family='"Liberation Serif", serif' letter-spacing="2.4">0.01</text>
<text transform="translate(896.3,786.7) scale(1.0,1)" font-size="21" text-anchor="start" font-weight="bold" font-style="italic" fill="#ff0000" font-family='"Liberation Serif", serif' >ρ</text>
<text transform="translate(909.7,791.8) scale(1.0,1)" font-size="15" text-anchor="start" font-weight="bold" font-style="italic" fill="#ff0000" font-family='"Liberation Serif", serif' >ec</text>
<text transform="translate(924.4,786.7) scale(1.3,1)" font-size="21" text-anchor="start" font-weight="bold" font-style="italic" fill="#ff0000" font-family='"Liberation Serif", serif' >/ρ</text>
<text transform="translate(955.3,786.7) scale(1.08,1)" font-size="21" text-anchor="start" font-weight="bold" font-style="normal" fill="#ff0000" font-family='"Liberation Serif", serif' >=</text>
<text transform="translate(976.6,786.7) scale(1.0,1)" font-size="21" text-anchor="start" font-weight="bold" font-style="normal" fill="#ff0000" font-family='"Liberation Serif", serif' letter-spacing="2.4">0.05</text>
<text transform="translate(894.2,822) scale(1.0,1)" font-size="21" text-anchor="start" font-weight="bold" font-style="italic" fill="#ff0000" font-family='"Liberation Serif", serif' >H</text>
<text transform="translate(909.7,825.5) scale(1.0,1)" font-size="15" text-anchor="start" font-weight="bold" font-style="italic" fill="#ff0000" font-family='"Liberation Serif", serif' >ec</text>
<text transform="translate(925.6,822) scale(1.08,1)" font-size="21" text-anchor="start" font-weight="bold" font-style="italic" fill="#ff0000" font-family='"Liberation Serif", serif' >/H</text>
<text transform="translate(958.7,822) scale(1.08,1)" font-size="21" text-anchor="start" font-weight="bold" font-style="normal" fill="#ff0000" font-family='"Liberation Serif", serif' >=</text>
<text transform="translate(980,822) scale(1.0,1)" font-size="21" text-anchor="start" font-weight="bold" font-style="normal" fill="#ff0000" font-family='"Liberation Serif", serif' letter-spacing="2.6">0.2</text>
<rect x="1267.2" y="834.5" width="125.8" height="33.4" fill="#ff0000"/>
<rect x="1293.3" y="867.9" width="73.5" height="9.2" fill="#505050"/>
<rect x="1293.3" y="877.1" width="73.5" height="112.8" fill="url(#leg)"/>
<rect x="1295" y="989.9" width="71.6" height="10.5" fill="#4a4a4a"/>
<rect x="1267" y="1000.4" width="126" height="32.9" fill="#2f5597"/>
<line x1="1230" y1="835" x2="1267.2" y2="835" stroke="#111" stroke-width="1.3"/>
<line x1="1230.3" y1="876.9" x2="1293.3" y2="876.9" stroke="#111" stroke-width="1.3"/>
<line x1="1231.7" y1="989.3" x2="1293.4" y2="989.3" stroke="#000" stroke-width="1"/>
<line x1="1248.6" y1="841.9" x2="1248.6" y2="870.5" stroke="#ff0000" stroke-width="1.2"/>
<path d="M1248.6,835.9 L1242.8,846.6999999999999 L1254.3999999999999,846.6999999999999 z" fill="#ff0000"/>
<path d="M1248.6,876.5 L1242.8,865.7 L1254.3999999999999,865.7 z" fill="#ff0000"/>
<line x1="1279" y1="883.7" x2="1279" y2="982.8" stroke="#ff0000" stroke-width="1.2"/>
<path d="M1279,877.7 L1273.2,888.5 L1284.8,888.5 z" fill="#ff0000"/>
<path d="M1279,988.8 L1273.2,978.0 L1284.8,978.0 z" fill="#ff0000"/>
<text transform="translate(1216.2,859.4) scale(1.0,1)" font-size="21" text-anchor="start" font-weight="normal" font-style="italic" fill="#222" font-family='"Liberation Serif", serif' >H</text>
<text transform="translate(1229.7,863) scale(1.0,1)" font-size="17" text-anchor="start" font-weight="normal" font-style="italic" fill="#222" font-family='"Liberation Serif", serif' >ec</text>
<text transform="translate(1252.7,939) scale(1.0,1)" font-size="24" text-anchor="start" font-weight="normal" font-style="italic" fill="#111" font-family='"Liberation Serif", serif' >H</text>
<text transform="translate(1303.9,939.5) scale(1.0,1)" font-size="18" text-anchor="start" font-weight="bold" font-style="italic" fill="#000" font-family='"Liberation Serif", serif' letter-spacing="1.1">TE leg</text>
<text transform="translate(1084.4,932.2) scale(1.0,1)" font-size="18.5" text-anchor="start" font-weight="bold" font-style="italic" fill="#000" font-family='"Liberation Serif", serif' letter-spacing="2.1">electrode</text>
<text transform="translate(1059.4,954.3) scale(1.0,1)" font-size="18.5" text-anchor="start" font-weight="normal" font-style="normal" fill="#000" font-family='"Liberation Serif", serif' >&amp;</text>
<text transform="translate(1077.2,954.3) scale(1.0,1)" font-size="18.5" text-anchor="start" font-weight="bold" font-style="italic" fill="#000" font-family='"Liberation Serif", serif' letter-spacing="1.9">contact layer</text>
<line x1="1129.5" y1="914.3" x2="1213.8" y2="856.9" stroke="#000" stroke-width="1" marker-end="url(#ahk)"/>
<line x1="1129.5" y1="960.1" x2="1217.8" y2="1007" stroke="#000" stroke-width="1" marker-end="url(#ahk)"/>
</svg></body></html>
